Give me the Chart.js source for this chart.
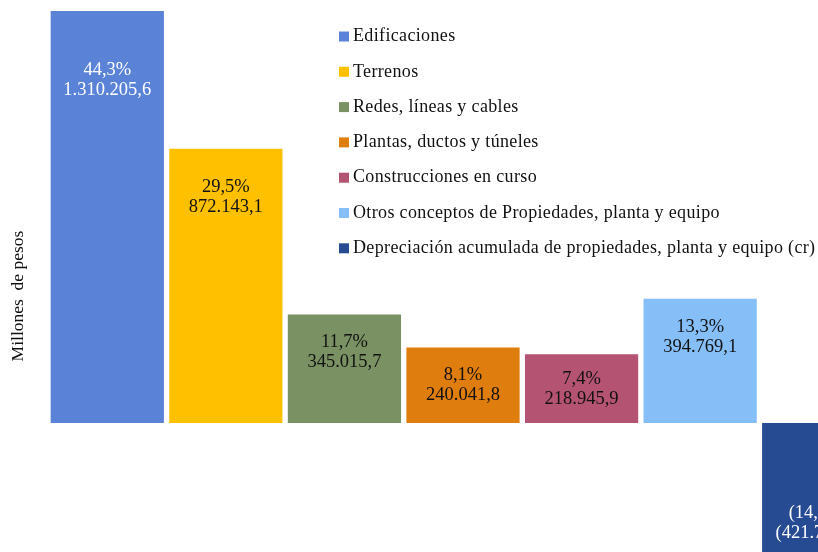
<!DOCTYPE html>
<html>
<head>
<meta charset="utf-8">
<script src="https://cdn.jsdelivr.net/npm/chart.js@4"></script>
<style>
  html, body { margin: 0; padding: 0; background: #fff; overflow: hidden; width: 818px; height: 552px; }
  #wrap { position: relative; width: 880px; height: 552px; }
</style>
</head>
<body>
<div id="wrap"><canvas id="c" width="880" height="552"></canvas></div>
<script>
const categories = [
  "Edificaciones",
  "Terrenos",
  "Redes, líneas y cables",
  "Plantas, ductos y túneles",
  "Construcciones en curso",
  "Otros conceptos de Propiedades, planta y equipo",
  "Depreciación acumulada de propiedades, planta y equipo (cr)"
];
const values = [1310205.6, 872143.1, 345015.7, 240041.8, 218945.9, 394769.1, -421750.0];
const percents = [44.3, 29.5, 11.7, 8.1, 7.4, 13.3, -14.3];
const yTitle = "Millones  de pesos";

const colors = ["#5A82D7", "#FFC000", "#7A9163", "#DF7D0E", "#B55373", "#86BFF8", "#264B93"];
const labelColors = ["#ffffff", "#111111", "#111111", "#111111", "#111111", "#111111", "#ffffff"];
const labelOffsets = [59, 38, 28, 28, 25, 28, 90];

function fmtNum(v, dec) {
  const neg = v < 0;
  const s = Math.abs(v).toFixed(dec);
  const parts = s.split(".");
  const intPart = parts[0].replace(/\B(?=(\d{3})+(?!\d))/g, ".");
  const out = dec > 0 ? intPart + "," + parts[1] : intPart;
  return neg ? "(" + out + ")" : out;
}
function fmtPct(p) {
  const s = Math.abs(p).toFixed(1).replace(".", ",") + "%";
  return p < 0 ? "(" + s + ")" : s;
}

const FONT = "'Liberation Serif', 'Times New Roman', serif";

const overlayPlugin = {
  id: "overlay",
  afterDatasetsDraw(chart) {
    const ctx = chart.ctx;
    ctx.save();
    ctx.textAlign = "center";
    ctx.textBaseline = "middle";
    ctx.font = "18.5px " + FONT;
    chart.data.datasets.forEach((ds, i) => {
      const bar = chart.getDatasetMeta(i).data[0];
      const top = Math.min(bar.y, bar.base);
      const y1 = top + labelOffsets[i];
      ctx.fillStyle = labelColors[i];
      ctx.fillText(fmtPct(percents[i]), bar.x, y1);
      ctx.fillText(fmtNum(values[i], 1), bar.x, y1 + 20);
    });
    ctx.restore();
  },
  afterDraw(chart) {
    const ctx = chart.ctx;
    ctx.save();
    // legend
    ctx.font = "18px " + FONT;
    if ("letterSpacing" in ctx) ctx.letterSpacing = "0.35px";
    ctx.textBaseline = "middle";
    ctx.textAlign = "left";
    chart.data.datasets.forEach((ds, i) => {
      const cy = 36.5 + i * 35.3;
      ctx.fillStyle = ds.backgroundColor;
      ctx.fillRect(339, cy - 5, 10, 10);
      ctx.fillStyle = "#111111";
      ctx.fillText(ds.label, 353, cy);
    });
    if ("letterSpacing" in ctx) ctx.letterSpacing = "0px";
    // y title
    ctx.font = "17.5px " + FONT;
    ctx.translate(18, 296);
    ctx.rotate(-Math.PI / 2);
    ctx.textAlign = "center";
    ctx.fillText(yTitle, 0, 0);
    ctx.restore();
  }
};

new Chart(document.getElementById("c"), {
  type: "bar",
  data: {
    labels: [""],
    datasets: categories.map((c, i) => ({
      label: c,
      data: [values[i]],
      backgroundColor: colors[i],
      borderWidth: 0
    }))
  },
  options: {
    responsive: false,
    animation: false,
    devicePixelRatio: 1,
    layout: { padding: { left: 48, right: 2, top: 0, bottom: 0 } },
    datasets: { bar: { categoryPercentage: 1, barPercentage: 0.955 } },
    plugins: { legend: { display: false }, tooltip: { enabled: false } },
    scales: {
      x: { display: false },
      y: { display: false, min: -410220, max: 1345180 }
    }
  },
  plugins: [overlayPlugin]
});
</script>
</body>
</html>
